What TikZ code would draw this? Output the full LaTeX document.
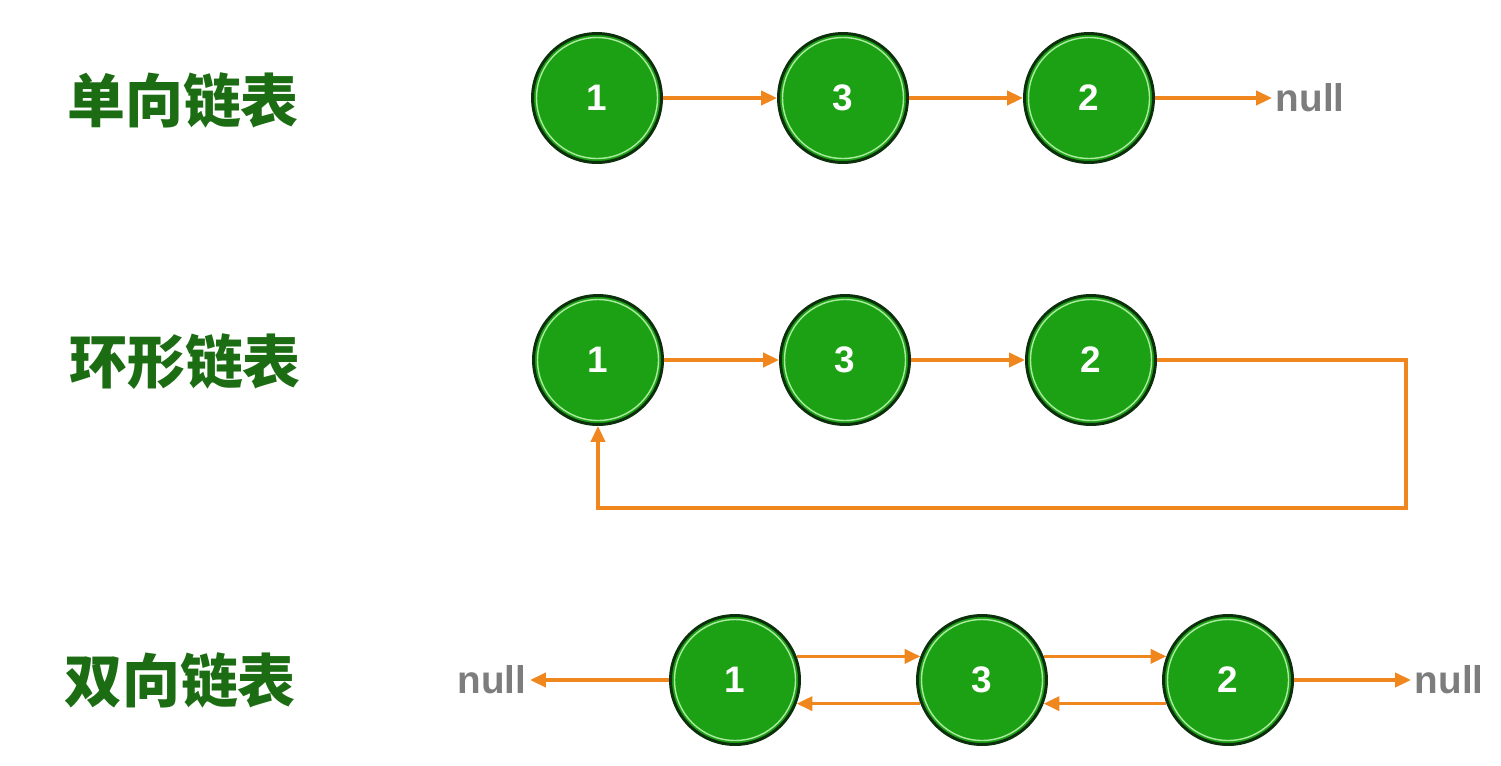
\documentclass[tikz,border=0pt]{standalone}
\usepackage{fontspec}
\setmainfont{Liberation Sans}
\newfontfamily\cjk{Noto Sans CJK SC}
\usetikzlibrary{arrows.meta}
\definecolor{nodegreen}{RGB}{28,160,20}
\definecolor{rimdark}{RGB}{12,48,12}
\definecolor{rimlight}{RGB}{170,235,160}
\definecolor{linkorange}{RGB}{240,135,30}
\definecolor{titlegreen}{RGB}{27,108,18}
\definecolor{nullgray}{RGB}{125,125,125}

\begin{document}
\begin{tikzpicture}[x=0.02cm, y=-0.02cm,
    item/.style={circle, fill=nodegreen, draw=rimdark, line width=1.7pt,
        minimum size=2.58cm, inner sep=0pt, text=white,
        font=\fontsize{21}{24}\selectfont\bfseries,
        path picture={\draw[rimlight, line width=0.8pt]
            (path picture bounding box.center) circle (1.21cm);}},
    link/.style={draw=linkorange, line width=2pt,
        -{Triangle[length=9pt, width=8pt]}},
    nil/.style={text=nullgray, inner sep=2pt,
        font=\fontsize{22}{26}\selectfont\bfseries},
    title/.style={text=titlegreen, font=\fontsize{33}{38}\selectfont\cjk\bfseries}]
    \useasboundingbox (0,0) rectangle (1501,765);

    % Singly linked list
    \node[title] (t1) at (183,100) {单向链表};
    \node[item] (s1) at (597,98) {1};
    \node[item] (s2) at (843,98) {3};
    \node[item] (s3) at (1089,98) {2};
    \node[nil, anchor=west] (snull) at (1272,98) {null};
    \draw[link] (s1) -- (s2);
    \draw[link] (s2) -- (s3);
    \draw[link] (s3) -- (snull);

    % Circular linked list
    \node[title] (t2) at (185,362) {环形链表};
    \node[item] (r1) at (598,360) {1};
    \node[item] (r2) at (845,360) {3};
    \node[item] (r3) at (1091,360) {2};
    \draw[link] (r1) -- (r2);
    \draw[link] (r2) -- (r3);
    \coordinate (loop) at (1406,508);
    \draw[link] (r3.east) -| (loop) -| (r1.south);

    % Doubly linked list
    \node[title] (t3) at (180,680) {双向链表};
    \node[item] (d1) at (735,680) {1};
    \node[item] (d2) at (982,680) {3};
    \node[item] (d3) at (1228,680) {2};
    \node[nil, anchor=east] (dnullL) at (530,680) {null};
    \node[nil, anchor=west] (dnullR) at (1411,680) {null};
    \draw[link] (d1) -- (dnullL);
    \draw[link] (d3) -- (dnullR);
    \draw[link] (d1.21) -- (d2.159);
    \draw[link] (d2.21) -- (d3.159);
    \draw[link] (d3.-159) -- (d2.-21);
    \draw[link] (d2.-159) -- (d1.-21);
\end{tikzpicture}
\end{document}
